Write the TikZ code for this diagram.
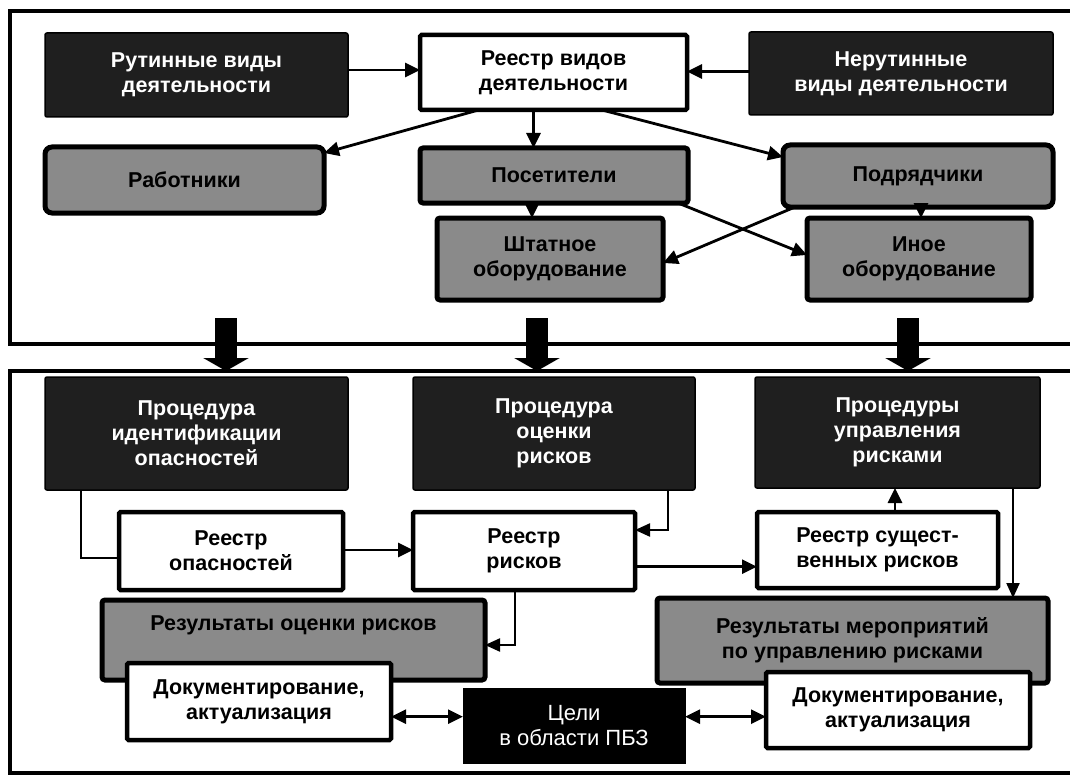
\documentclass[tikz,border=0pt]{standalone}
\usepackage{fontspec}
\setmainfont{Liberation Sans}
\usetikzlibrary{arrows.meta,calc}
\newcommand\bx[7]{\node[#2, minimum width={(#5-#3)*1pt}, minimum height={(#6-#4)*1pt}] (#1) at ({(#3+#5)/2},{(#4+#6)/2}) {#7};}
\tikzset{
  base/.style={rectangle, inner sep=2pt, outer sep=0pt, align=center, font=\fontsize{21.5}{25}\selectfont\bfseries},
  darkbox/.style={base, fill=black!88, draw=black, line width=1.5pt, rounded corners=2pt, text=white},
  whitebox/.style={base, fill=white, draw=black, line width=4.5pt, rounded corners=1.5pt, text=black},
  graybox/.style={base, fill=black!46, draw=black, line width=5pt, rounded corners=3pt, text=black},
  grayround/.style={graybox, rounded corners=7pt},
  blackbox/.style={base, fill=black, draw=black, line width=1pt, text=white, font=\fontsize{22}{25}\selectfont},
  gtext/.style={inner sep=0pt, outer sep=0pt, align=center, font=\fontsize{21.5}{25}\selectfont\bfseries, text=black},
  frame/.style={rectangle, draw=black, line width=4pt, outer sep=0pt, inner sep=0pt},
  arr/.style={line width=2.8pt, -{Triangle[length=15pt,width=14pt]}},
  arrt/.style={line width=2.2pt, -{Triangle[length=15pt,width=13pt]}},
  darr/.style={line width=2.8pt, {Triangle[length=15pt,width=14pt]}-{Triangle[length=15pt,width=14pt]}},
  thin/.style={line width=1.5pt},
  big/.style={line width=22pt, -{Triangle[length=13pt,width=45pt]}}
}
\begin{document}
\begin{tikzpicture}[x=1pt,y=-1pt]
\useasboundingbox (0,0) rectangle (1070,778);
\clip (0,0) rectangle (1070,778);
\fill[white] (0,0) rectangle (1070,778);
% frames
\bx{topf}{frame}{10}{11}{1090}{344}{}
\bx{botf}{frame}{10}{371}{1090}{773}{}
% top section
\bx{rut}{darkbox}{45}{33}{348}{117}{Рутинные виды\\деятельности}
\bx{reg}{whitebox}{420}{35}{687}{110}{Реестр видов\\деятельности}
\bx{nerut}{darkbox}{749}{32}{1053}{115}{Нерутинные\\виды деятельности}
\bx{rab}{grayround}{45}{147}{324}{213}{Работники}
\bx{pos}{graybox}{420}{148}{688}{203}{Посетители}
\bx{pod}{grayround}{783}{145}{1053}{207}{Подрядчики}
\bx{sht}{graybox}{437}{218}{663}{300}{Штатное\\оборудование}
\bx{ino}{graybox}{807}{218}{1031}{300}{Иное\\оборудование}
% top connectors
\draw[arr] ([yshift=5pt]rut.east) coordinate (a1) -- (a1 -| reg.west);
\draw[arr] ([yshift=2pt]nerut.west) coordinate (a2) -- (a2 -| reg.east);
\draw[arr] ([xshift=-75pt]reg.south) -- ([yshift=-6pt]rab.north east);
\draw[arr] ([xshift=-20pt]reg.south) coordinate (a4) -- (a4 |- pos.north);
\draw[arr] ([xshift=48.5pt]reg.south) -- ([yshift=-12pt]pod.north west);
\draw[arr] ([xshift=-22pt]pos.south) coordinate (a6) -- (a6 |- sht.north);
\draw[arr] ([xshift=3pt]pod.south) coordinate (a7) -- (a7 |- ino.north);
\draw[arr] ([xshift=-10pt]pos.south east) -- ([yshift=4pt]ino.west);
\draw[arr] ([xshift=12pt]pod.south west) -- ([yshift=-4pt]sht.east);
% big arrows between frames
\coordinate (s1) at (226,318);
\coordinate (s2) at (537,318);
\coordinate (s3) at (908,318);
\draw[big] (s1) -- (s1 |- botf.north);
\draw[big] (s2) -- (s2 |- botf.north);
\draw[big] (s3) -- (s3 |- botf.north);
% bottom section
\bx{pid}{darkbox}{45}{377}{348}{490}{Процедура\\идентификации\\опасностей}
\bx{pocr}{darkbox}{413}{377}{695}{490}{Процедура\\оценки\\рисков}
\bx{pur}{darkbox}{755}{377}{1040}{488}{Процедуры\\управления\\рисками}
\bx{rop}{whitebox}{119}{512}{343}{590}{Реестр\\опасностей}
\bx{rr}{whitebox}{413}{512}{635}{590}{Реестр\\рисков}
\bx{rsr}{whitebox}{757}{512}{998}{588}{Реестр сущест-\\венных рисков}
\bx{roc}{graybox}{102}{600}{485}{680}{}
\node[gtext] (roct) at ($(roc.north)+(0,25)$) {Результаты оценки рисков};
\bx{rmer}{graybox}{657}{598}{1048}{683}{Результаты мероприятий\\по управлению рисками}
\bx{dl}{whitebox}{127}{663}{391}{740}{Документирование,\\актуализация}
\bx{celi}{blackbox}{463}{688}{685}{763}{Цели\\в области ПБЗ}
\bx{dr}{whitebox}{766}{672}{1030}{748}{Документирование,\\актуализация}
% bottom connectors
\draw[thin] ([xshift=-115.5pt]pid.south) |- ([yshift=-7pt]rop.west);
\draw[arr] ([yshift=1pt]rop.east) coordinate (b2) -- (b2 -| rr.west);
\draw[arrt] ([xshift=113.7pt]pocr.south) |- ([yshift=21pt]rr.east);
\draw[arr] ([yshift=-15.7pt]rr.east) coordinate (b4) -- (b4 -| rsr.west);
\draw[arr] ([xshift=17.5pt]rsr.north) coordinate (b5) -- (b5 |- pur.south);
\draw[arrt] ([xshift=115.5pt]pur.south) coordinate (b6) -- (b6 |- rmer.north);
\draw[arrt] ([xshift=-9.2pt]rr.south) |- ([yshift=-5pt]roc.east);
\draw[darr] ([yshift=-15.2pt]dl.east) coordinate (b8) -- (b8 -| celi.west);
\draw[darr] ([yshift=8.8pt]celi.east) coordinate (b9) -- (b9 -| dr.west);
\end{tikzpicture}
\end{document}
